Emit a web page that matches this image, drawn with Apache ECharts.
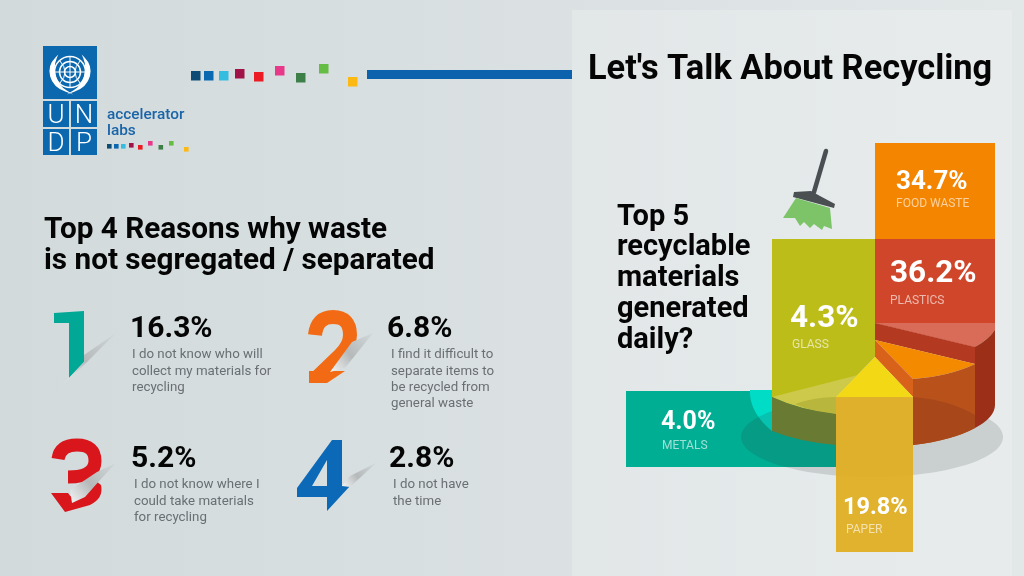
<!DOCTYPE html>
<html><head><meta charset="utf-8">
<style>html,body{margin:0;padding:0;background:#dde3e5}#c{width:1024px;height:576px}</style>
<script src="https://cdn.jsdelivr.net/npm/echarts@6/dist/echarts.min.js"></script>
</head><body><div id="c"></div>
<script>
// ---- data ----
const materialNames = ['METALS','PLASTICS','FOOD WASTE','GLASS','PAPER'];
const materialValues = [4.0,36.2,34.7,4.3,19.8];
const reasonValues = [16.3,6.8,5.2,2.8];
const reasonTexts = [
  'I do not know who will\ncollect my materials for\nrecycling',
  'I find it difficult to\nseparate items to\nbe recycled from\ngeneral waste',
  'I do not know where I\ncould take materials\nfor recycling',
  'I do not have\nthe time'
];
const titleText = "Let's Talk About Recycling";
const leftHeading = 'Top 4 Reasons why waste\nis not segregated / separated';
const rightHeading = 'Top 5\nrecyclable\nmaterials\ngenerated\ndaily?';

// ---- drawing layout ----
const FONT = 'Roboto, sans-serif';
const p = (d, fill, extra) => ({type:'path', shape:{pathData:d}, style:Object.assign({fill}, extra||{})});
const txt = (text,x,y,font,fill,extra) => ({type:'text', style:Object.assign({text,x,y,font,fill,textVerticalAlign:'middle'},extra||{})});

const tilePieces = {
 'METALS': {num:[661,423,25], lab:[662,446], parts:[
   p('M626 391H836V467H626Z','#00ae94'),
   p('M750 390H772V431Q752 415 750 395Z','#00dcc6'),
   {type:'ellipse',shape:{cx:872,cy:437,rx:131,ry:40},style:{fill:'rgba(40,50,50,0.15)'}}
 ]},
 'PLASTICS': {num:[890,274,31.5], lab:[890,301], parts:[
   p('M875 239H995V330L975 347L875 323Z','#d0462a'),
   p('M875 323H995V330Q988 340 975 347Z','#d96c59'),
   p('M875 323L975 347V364L875 340Z','#b33a20'),
   p('M975 347Q988 340 995 330V405A120 42 0 0 1 975 428Z','#9b2f18')
 ]},
 'FOOD WASTE': {num:[896,182,26], lab:[896,204], parts:[
   p('M875 143H995V239H875Z','#f48500'),
   p('M875 340L975 364Q950 376 913 379Z','#f38a00'),
   p('M875 340L913 379V397L875 357Z','#d9621a'),
   p('M913 379Q950 376 975 364V428A120 42 0 0 1 913 445Z','#b9511a'),
   p('M913 397Q950 400 975 415V428A120 42 0 0 1 913 445Z','#a8481a')
 ]},
 'GLASS': {num:[790,319,31.5], lab:[792,345], parts:[
   p('M772 239H875V357L836 397V414Q800 410 772 397Z','#bdbd1a'),
   p('M772 397L858 375L836 397V414Q800 410 772 397Z','#cdc94a'),
   p('M795 404Q815 397 836 397V414Q812 412 795 404Z','#b8b63c'),
   p('M772 397Q800 410 836 414V445Q800 442 772 431Z','#697a33')
 ]},
 'PAPER': {num:[843,508,23.5], lab:[846,530], parts:[
   p('M875 357L913 397H836Z','#f2d815'),
   p('M836 397H913V552H836Z','rgba(224,173,30,0.93)')
 ]}
};
const reasonPos = [[130,329,132,355],[387,329,391,355],[131,459,134,485],[389,459,393,485]];

// ---- decoration ----
const g = [];
const decor = [];
g.push({type:'rect',z:0,shape:{x:0,y:0,width:1024,height:576},style:{fill:{type:'linear',x:0,y:0,x2:1,y2:0,colorStops:[{offset:0,color:'#d2dadc'},{offset:1,color:'#e2e7e8'}]}}});
g.push({type:'rect',z:0,shape:{x:572,y:10,width:440,height:566},style:{fill:'rgba(255,255,255,0.2)'}});
g.push({type:'rect',z:1,shape:{x:367,y:70,width:205,height:9},style:{fill:'#0d62ad'}});
g.push({type:'text',z:3,style:{text:titleText,x:588,y:70,font:'bold 34.4px '+FONT,fill:'#050505',textVerticalAlign:'middle'}});
// logo
const BL='#0b68ae';
[[43,46,54,53],[43,101,26,26],[71,101,26,26],[43,129,26,26],[71,129,26,26]].forEach(r=>g.push({type:'rect',z:1,shape:{x:r[0],y:r[1],width:r[2],height:r[3]},style:{fill:BL}}));
[['U',56,116],['N',84,116],['D',56,144],['P',84,144]].forEach(t=>g.push({type:'text',z:2,style:{text:t[0],x:t[1],y:t[2],font:'300 26px '+FONT,fill:'#fff',textAlign:'center',textVerticalAlign:'middle'}}));
[15.5,10.5,5.5].forEach(r=>g.push({type:'circle',z:2,shape:{cx:70,cy:72,r},style:{fill:'none',stroke:'#fff',lineWidth:1.5}}));
decor.push(p('M70 57V87M55 72H85M60 61Q70 72 60 83M80 61Q70 72 80 83','none',{stroke:'#fff',lineWidth:1}));
decor.push(p('M56 58C46 68 49 85 66 91C56 85 51 70 56 58ZM84 58C94 68 91 85 74 91C84 85 89 70 84 58Z','#fff',{stroke:'#fff',lineWidth:1.6}));
g.push({type:'text',z:2,style:{text:'accelerator',x:107,y:115,font:'500 15.4px '+FONT,fill:'#1a64a8',textVerticalAlign:'middle'}});
g.push({type:'text',z:2,style:{text:'labs',x:107,y:131,font:'500 15.4px '+FONT,fill:'#1a64a8',textVerticalAlign:'middle'}});
const sq=['#0f4c75','#0a68b0','#35bde0','#a11246','#ec1c24','#e8388a','#3c8048','#66bd46','#fdb913'];
[[191,71],[204,71],[219,71],[235,69],[254,72],[275,66],[296,73],[319,64],[348,77]].forEach((s,i)=>g.push({type:'rect',z:1,shape:{x:s[0],y:s[1],width:9.5,height:9.5},style:{fill:sq[i]}}));
[[107,144],[114,144],[121,144],[129,143],[138,145],[148,141],[158.5,145],[169,141],[184,147]].forEach((s,i)=>g.push({type:'rect',z:1,shape:{x:s[0],y:s[1],width:4.6,height:4.6},style:{fill:sq[i]}}));
// headings
g.push({type:'text',z:3,style:{text:leftHeading,x:44,y:246,font:'bold 29.7px '+FONT,fill:'#050505',lineHeight:31,textVerticalAlign:'middle'}});
g.push({type:'text',z:3,style:{text:rightHeading,x:617,y:279,font:'bold 29px '+FONT,fill:'#050505',lineHeight:30.8,textVerticalAlign:'middle'}});
// broom
decor.push(p('M826 151L814 192','none',{stroke:'#4a4f52',lineWidth:4.5,lineCap:'round'}));
decor.push(p('M794 192L811 191L820 196L835 204L834 208L793 197Z','#4a4f52'));
decor.push(p('M796 198L830 208L832 229L824 226L822 230L814 224L810 228L804 222L800 226L795 218L783 218Z','#7cc467'));
// page curls and digits
const curl=(pts)=>p('M'+pts.join('L')+'Z',{type:'linear',x:0,y:1,x2:1,y2:0,colorStops:[{offset:0,color:'#f4f5f5'},{offset:0.45,color:'#b5b9ba'},{offset:1,color:'#d2d8da'}]});
decor.push(p('M54 313L84 311V362L69 378V323H54Z','#00a895'));
decor.push(curl(['84 355','116 333','84 365','62 385','69 378','84 362']));
decor.push(p('M315 335Q317 317 333 317Q350 317 350 335Q350 345 340 355L316 378','none',{stroke:'#f26a14',lineWidth:14}));
decor.push(p('M309 371H333L345 371L327 383H309Z','#f26a14'));
decor.push(curl(['373 333','352 342','330 372','345 368']));
decor.push(p('M58 459Q60 445 77 445Q95 445 95 461Q95 477 68 477','none',{stroke:'#d9161c',lineWidth:13}));
decor.push(p('M51 493H68Q74 502 80 497L92 478L101 485Q104 498 90 505L65 512Z','#d9161c'));
decor.push(curl(['116 463','97 472','70 490','72 503','85 497','100 480']));
decor.push(p('M332 440H342V486H350L327 511V497H297V488ZM327 460L312 486H327Z','#0b69b8'));
decor.push(curl(['376 463','350 476','342 486','350 487']));

function renderMaterial(params, api){
  const name = materialNames[params.dataIndex];
  const v = api.value(0);
  const t = tilePieces[name];
  const children = t.parts.concat([
    txt(v.toFixed(1)+'%',t.num[0],t.num[1],'bold '+t.num[2]+'px '+FONT,'#fff'),
    txt(name,t.lab[0],t.lab[1],'12px '+FONT,'rgba(255,255,255,0.62)')
  ]);
  return {type:'group',children};
}
function renderReason(params, api){
  const i = params.dataIndex, r = reasonPos[i];
  const lines = reasonTexts[i].split('\n');
  return {type:'group',children:[
    txt(api.value(0).toFixed(1)+'%',r[0],r[1],'bold 30px '+FONT,'#050505')
  ].concat(lines.map((l,k)=>txt(l,r[2],r[3]+k*16.3,'13.3px '+FONT,'#696f73')))};
}
const chart = echarts.init(document.getElementById('c'),null,{renderer:'canvas',width:1024,height:576});
chart.setOption({
  animation:false,
  graphic:{elements:g},
  series:[
    {type:'custom',coordinateSystem:'none',name:'decor',data:[0],renderItem:()=>({type:'group',children:decor}),silent:true,z:4},
    {type:'custom',coordinateSystem:'none',name:'Top 5 recyclable materials',data:materialValues,renderItem:renderMaterial,silent:true,z:5},
    {type:'custom',coordinateSystem:'none',name:'Top 4 reasons',data:reasonValues,renderItem:renderReason,silent:true,z:5}
  ]
});
</script></body></html>
